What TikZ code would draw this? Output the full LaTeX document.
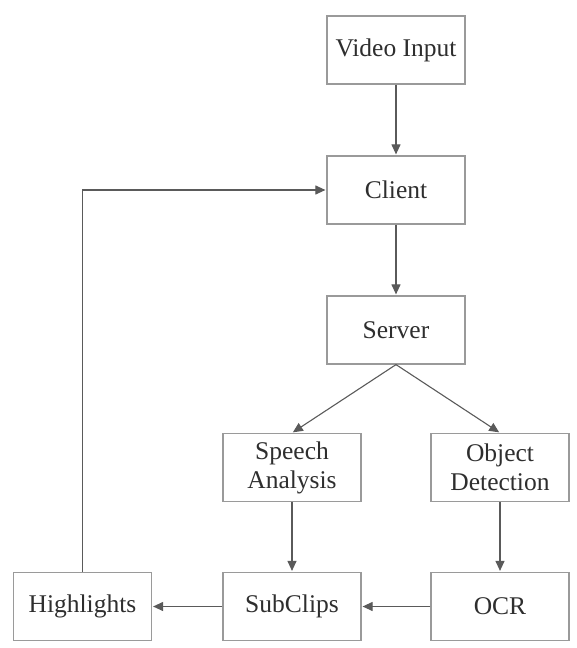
\documentclass[tikz,border=0pt]{standalone}
\usepackage{fontspec}
\setmainfont{Liberation Serif}
\usetikzlibrary{arrows.meta}
\definecolor{boxline}{HTML}{9A9A9A}
\definecolor{arrowline}{HTML}{5A5A5A}
\definecolor{txt}{HTML}{2E2E2E}
\begin{document}
\begin{tikzpicture}[x=1pt,y=-1pt,
  box/.style={draw=boxline, line width=1.2pt, minimum width=138pt, minimum height=68pt,
    inner sep=0pt, align=center, text=txt, font=\fontsize{25.5}{29}\selectfont},
  arr/.style={draw=arrowline, line width=1.1pt, -{Triangle[length=10pt,width=9pt]}, shorten >=1pt}]
\path[use as bounding box] (0,0) rectangle (577,648);
\node[box] (video) at (396,50) {Video Input};
\node[box] (client) at (396,190) {Client};
\node[box] (server) at (396,330) {Server};
\node[box] (speech) at (292,467.5) {Speech\\Analysis};
\node[box] (object) at (500,467.5) {Object\\Detection};
\node[box] (highlights) at (82.5,606.5) {Highlights};
\node[box] (subclips) at (292,606.5) {SubClips};
\node[box] (ocr) at (500,606.5) {OCR};
\draw[arr] (video) -- (client);
\draw[arr] (client) -- (server);
\draw[arr] (server.south) -- (speech.north);
\draw[arr] (server.south) -- (object.north);
\draw[arr] (speech) -- (subclips);
\draw[arr] (object) -- (ocr);
\draw[arr] (ocr) -- (subclips);
\draw[arr] (subclips) -- (highlights);
\draw[arr] (highlights.north) |- (client.west);
\end{tikzpicture}
\end{document}
